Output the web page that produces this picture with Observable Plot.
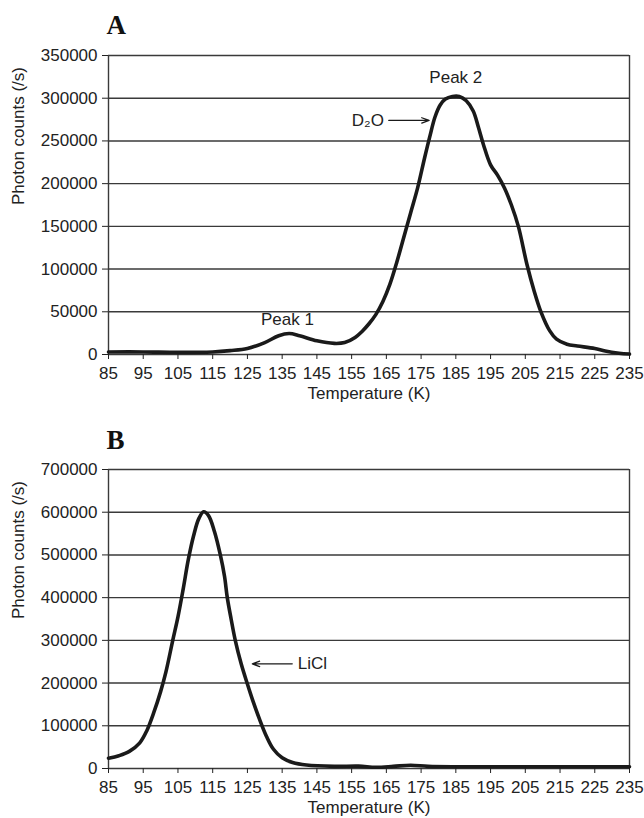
<!DOCTYPE html>
<html>
<head>
<meta charset="utf-8">
<script src="https://cdn.jsdelivr.net/npm/d3@7"></script>
<script src="https://cdn.jsdelivr.net/npm/@observablehq/plot@0.6"></script>
<style>
  html, body { margin: 0; padding: 0; background: #fff; }
  #chart svg { display: block; }
</style>
</head>
<body>
<div id="chart"></div>
<script>
// ---- Data ----
const xTicks = [85, 95, 105, 115, 125, 135, 145, 155, 165, 175, 185, 195, 205, 215, 225, 235];
const yTicksA = [0, 50000, 100000, 150000, 200000, 250000, 300000, 350000];
const yTicksB = [0, 100000, 200000, 300000, 400000, 500000, 600000, 700000];

// Panel A: D2O desorption (temperature K, photon counts /s)
const tempA = [85, 95, 105, 115, 120, 125, 130, 134, 137, 140, 145, 150, 153, 156, 158, 160, 162, 164, 166, 168, 170, 172, 174, 176, 177.5, 179, 180.5, 182, 184, 186, 188, 190, 191.5, 193, 195, 197, 199, 201, 203, 205.5, 207.5, 209.5, 212, 214, 217, 220, 225, 228, 232, 235];
const countsA = [3000, 3000, 2500, 3000, 4500, 7000, 14000, 22000, 24500, 22000, 16000, 13000, 14000, 20000, 27000, 36000, 47000, 62000, 82000, 108000, 137000, 166000, 195000, 230000, 255000, 278000, 292000, 299000, 302000, 302000, 297000, 285000, 266000, 245000, 222000, 210000, 195000, 175000, 150000, 105000, 75000, 50000, 28000, 18000, 12000, 10000, 7000, 4000, 1500, 500];

// Panel B: LiCl desorption
const tempB = [85, 88, 91, 94, 96, 98, 100, 101.5, 103.5, 105, 106.5, 108, 109.5, 111, 112.4, 113.8, 115.5, 117.2, 118.4, 119.2, 120.3, 121.5, 123.2, 124.9, 126.5, 128.5, 130.5, 132.5, 135, 138, 142, 150, 157, 162, 167, 172, 177, 185, 200, 220, 235];
const countsB = [24000, 30000, 40000, 60000, 88000, 130000, 180000, 225000, 300000, 355000, 420000, 490000, 545000, 585000, 601000, 592000, 555000, 500000, 450000, 400000, 350000, 300000, 245000, 200000, 160000, 115000, 75000, 45000, 25000, 14000, 8000, 5000, 5500, 3000, 5000, 7500, 5000, 4000, 4000, 4000, 4000];

const seriesA = tempA.map((t, i) => ({t, v: countsA[i]}));
const seriesB = tempB.map((t, i) => ({t, v: countsB[i]}));

const panelLabels = ["A", "B"];
const xLabel = "Temperature (K)";
const yLabel = "Photon counts (/s)";

// Annotations
const peakLabelsA = [{t: 136.5, v: 41000, text: "Peak 1"}, {t: 185, v: 324000, text: "Peak 2"}];
const arrowA = [{t1: 165.7, t2: 177.3, v: 274000}];
const arrowTextA = [{t: 164.3, v: 274000, text: "D₂O"}];
const arrowB = [{t1: 137.9, t2: 126.4, v: 245000}];
const arrowTextB = [{t: 139.5, v: 245000, text: "LiCl"}];

const font = "'Liberation Sans', Arial, Helvetica, sans-serif";
const gridColor = "#3a3a3a";
const ink = "#1a1a1a";
const fs = 17;

function panel({height, marginTop, marginBottom, yDomain, yTicks, data, label, labelDy, extras}) {
  return Plot.plot({
    width: 644,
    height,
    marginLeft: 108,
    marginRight: 15,
    marginTop,
    marginBottom,
    style: {fontFamily: font, fontSize: fs + "px", color: "#222", background: "#fff"},
    x: {domain: [85, 235], ticks: xTicks, label: null},
    y: {domain: yDomain, ticks: yTicks, label: null},
    marks: [
      Plot.ruleY(yTicks, {stroke: gridColor, strokeWidth: 1.4}),
      Plot.ruleX([85, 235], {stroke: gridColor, strokeWidth: 1.4}),
      Plot.axisY({ticks: yTicks, tickSize: 6, tickPadding: 5, tickFormat: d3.format("d"), label: null, fontSize: fs}),
      Plot.axisX({ticks: xTicks, tickSize: 5, tickPadding: 7, tickFormat: d3.format("d"), label: null, fontSize: fs}),
      Plot.text([xLabel], {frameAnchor: "bottom", dy: 44, fontSize: fs, fill: "#222"}),
      Plot.text([yLabel], {frameAnchor: "left", dx: -90, rotate: -90, fontSize: fs, fill: "#222"}),
      Plot.text([label], {frameAnchor: "top-left", textAnchor: "start", lineAnchor: "bottom", dx: -2, dy: labelDy, fontFamily: "'Liberation Serif', 'Times New Roman', serif", fontWeight: "bold", fontSize: 27, fill: "#111"}),
      Plot.line(data, {x: "t", y: "v", curve: "catmull-rom", stroke: ink, strokeWidth: 3.6, strokeLinejoin: "round", strokeLinecap: "round"}),
      ...extras
    ]
  });
}

const plotA = panel({
  height: 410, marginTop: 55, marginBottom: 56,
  yDomain: [0, 350000], yTicks: yTicksA, data: seriesA, label: panelLabels[0], labelDy: -22,
  extras: [
    Plot.text(peakLabelsA, {x: "t", y: "v", text: "text", fontSize: fs, fill: "#222"}),
    Plot.arrow(arrowA, {x1: "t1", x2: "t2", y1: "v", y2: "v", stroke: ink, strokeWidth: 1.3, headLength: 9, headAngle: 40}),
    Plot.text(arrowTextA, {x: "t", y: "v", text: "text", textAnchor: "end", fontSize: fs, fill: "#222"})
  ]
});

const plotB = panel({
  height: 408, marginTop: 59, marginBottom: 50,
  yDomain: [0, 700000], yTicks: yTicksB, data: seriesB, label: panelLabels[1], labelDy: -21,
  extras: [
    Plot.arrow(arrowB, {x1: "t1", x2: "t2", y1: "v", y2: "v", stroke: ink, strokeWidth: 1.3, headLength: 9, headAngle: 40}),
    Plot.text(arrowTextB, {x: "t", y: "v", text: "text", textAnchor: "start", fontSize: fs, fill: "#222"})
  ]
});

const chart = document.getElementById("chart");
chart.appendChild(plotA);
chart.appendChild(plotB);
</script>
</body>
</html>
